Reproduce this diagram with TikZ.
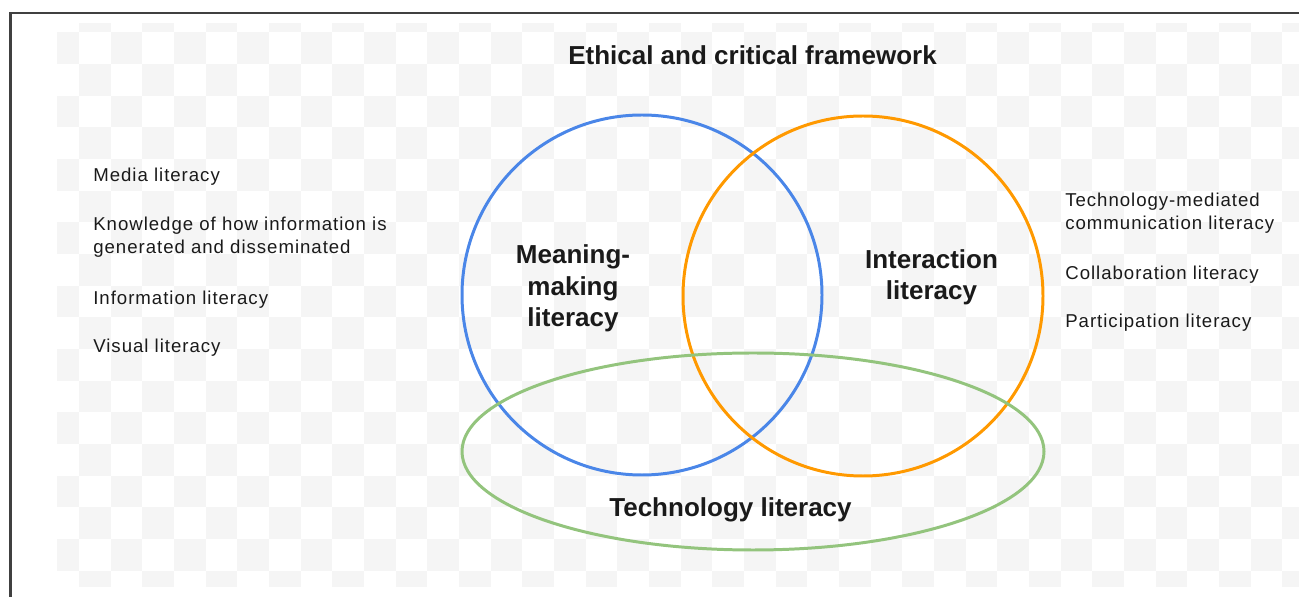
\documentclass[tikz,border=0pt]{standalone}
\usepackage{fontspec}
\setmainfont{Liberation Sans}
\newfontfamily\listfont[LetterSpace=5.2]{Liberation Sans}
\usetikzlibrary{positioning}
\definecolor{cblue}{HTML}{4A86E8}
\definecolor{corange}{HTML}{FF9900}
\definecolor{cgreen}{HTML}{93C47D}
\definecolor{ccheck}{HTML}{F5F5F5}
\definecolor{cframe}{HTML}{404040}
\definecolor{ctext}{HTML}{1A1A1A}
\tikzset{
  ring/.style={draw=#1, line width=1.7pt},
  heading/.style={font=\fontsize{14.8}{18.1}\selectfont\bfseries, text=ctext, align=center, inner sep=0pt, anchor=base},
  item/.style={font=\listfont\fontsize{10.6}{13.2}\selectfont, text=ctext, align=left, inner sep=0pt, anchor=base west},
}

\begin{document}
\begin{tikzpicture}[x=0.02cm, y=-0.02cm]
  \useasboundingbox (0,0) rectangle (1299,597);
  % faint checkerboard backdrop
  \begin{scope}
    \clip (57,23.3) rectangle (1299,586.7);
    \foreach \i in {0,...,39}
      \foreach \j in {0,...,18}{
        \pgfmathtruncatemacro\k{\i+\j}
        \ifodd\k \fill[ccheck] ({79+31.67*(\i-1)},{32.3+31.67*(\j-1)}) rectangle +(31.67,31.67); \fi
      }
  \end{scope}
  \draw[cframe, line width=1.2pt] (10.5,597) -- (10.5,12.8) -- (1299,12.8);

  % the three literacies
  \draw[ring=cblue] (642,295) circle (180);
  \draw[ring=corange] (863,296) circle (180);
  \draw[ring=cgreen] (753,451.5) ellipse (291 and 98.5);

  % base of a multi-line node sits on its last line
  \node[heading] (frame) at (752.5,65) {Ethical and critical framework};
  \node[heading] (meaning) at (573,327) {Meaning-\\making\\literacy};
  \node[heading] (interact) at (931.5,300) {Interaction\\literacy};
  \node[heading] (tech) at (730.5,517) {Technology literacy};

  % lists either side
  \node[item] (media) at (93,182) {Media literacy};
  \node[item] (know) at (93,254) {Knowledge of how information is\\generated and disseminated};
  \node[item] (info) at (93,305) {Information literacy};
  \node[item] (visual) at (93,353) {Visual literacy};

  \node[item] (tmc) at (1065,230) {Technology-mediated\\communication literacy};
  \node[item] (collab) at (1065,280) {Collaboration literacy};
  \node[item] (partic) at (1065,328) {Participation literacy};
\end{tikzpicture}
\end{document}
